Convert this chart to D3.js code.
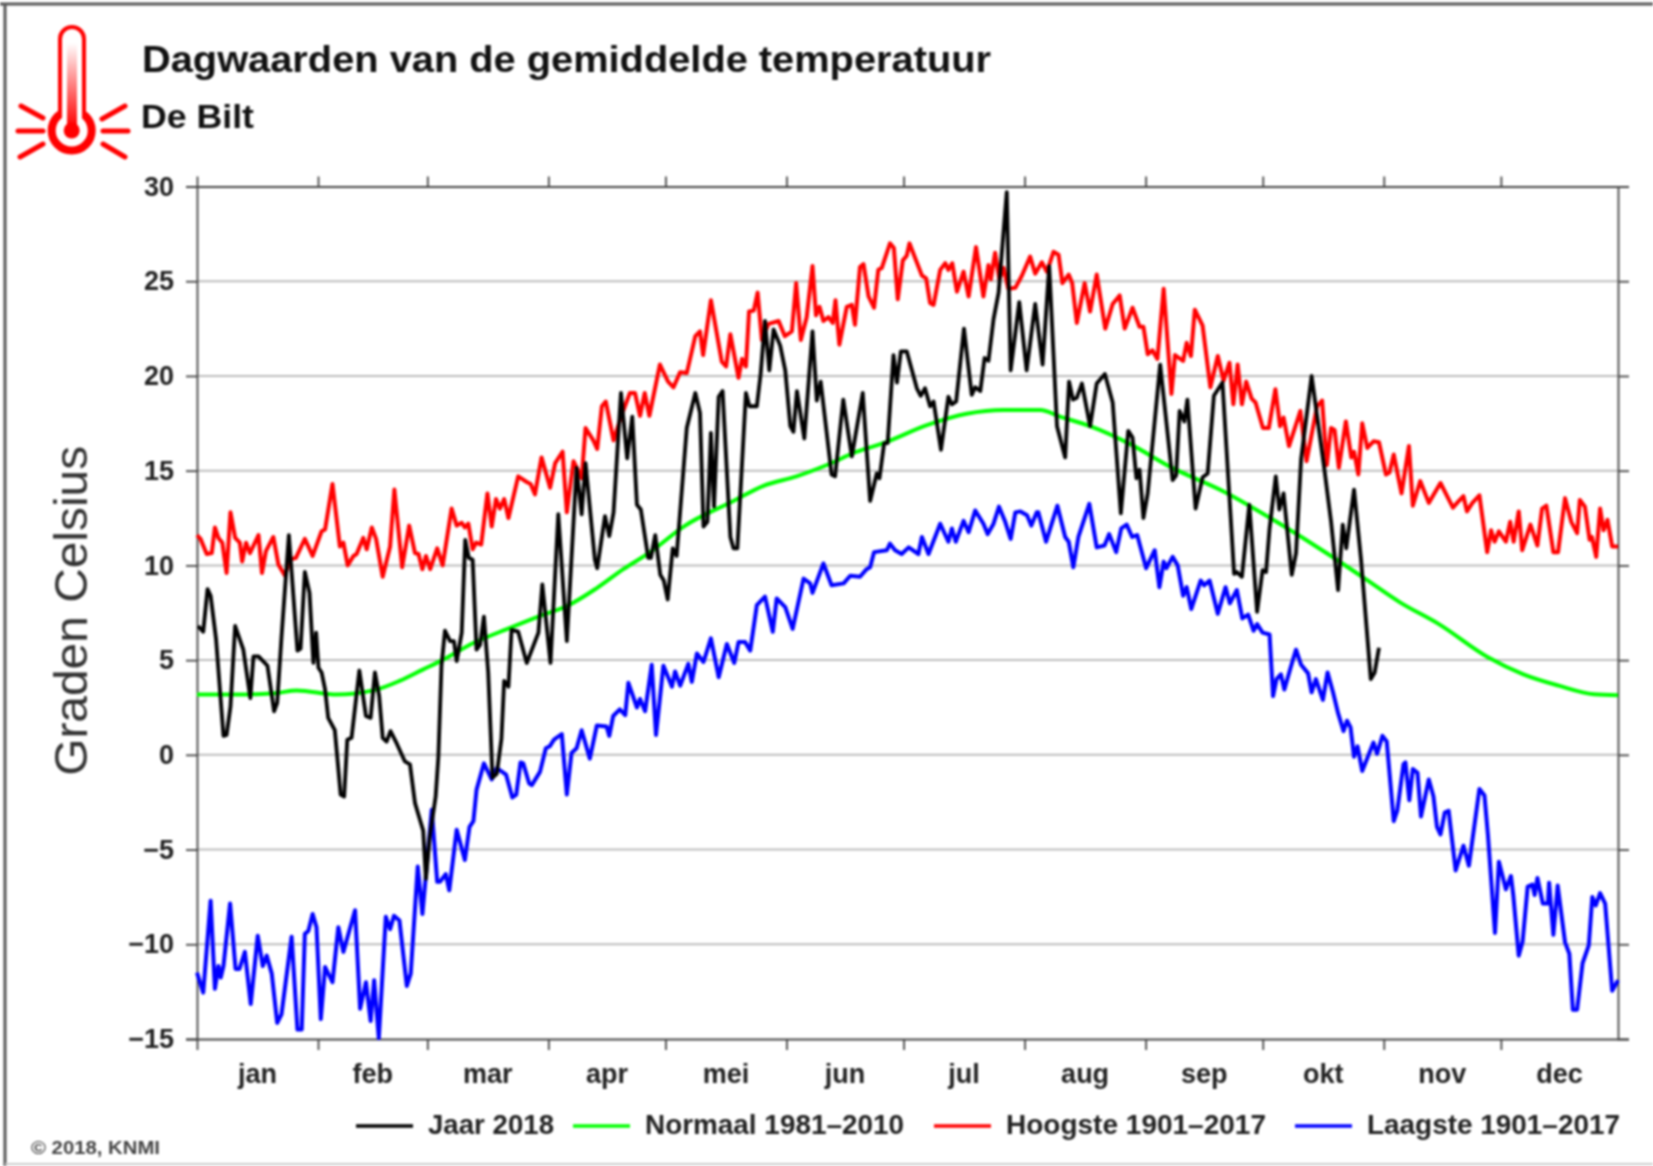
<!DOCTYPE html>
<html>
<head>
<meta charset="utf-8">
<title>Dagwaarden van de gemiddelde temperatuur</title>
<script src="https://cdnjs.cloudflare.com/ajax/libs/d3/7.8.5/d3.min.js"></script>
<style>
  html, body { margin: 0; padding: 0; background: #fff; }
  svg { display: block; filter: blur(1.1px); }
  text { font-family: "Liberation Sans", Arial, sans-serif; }
</style>
</head>
<body>
<div id="chart"></div>
<script>
// month ticks, day of the year where each month starts (1 jan = 0, 31 dec = 364)
const month_names = ["jan","feb","mar","apr","mei","jun","jul","aug","sep","okt","nov","dec"]
const month_starts = [0,31,59,90,120,151,181,212,243,273,304,334,364]
const y_ticks = [-15,-10,-5,0,5,10,15,20,25,30]

// series are [day, degrees] at each visible corner of the line
// the days were measured with a ruler of 365 steps over the plot width, see x_scale
const jaar_2018 = [[0.3,6.8],[1.6,6.5],[2.7,8.75],[3.5,8.4],[4.9,6.1],[6.8,1],[7.6,1.05],[8.6,2.55],[9.8,6.8],[11.9,5.55],[13.7,3],[14.5,5.2],[15.8,5.2],[18.1,4.7],[19.8,2.3],[20.6,2.75],[21.7,6.2],[23.6,11.6],[25.8,5.5],[26.6,5.6],[27.7,9.65],[28.9,8.55],[29.9,4.85],[30.6,6.45],[31.2,4.6],[32,4.35],[32.9,3.45],[33.7,1.95],[35.4,1.3],[36.9,-2.1],[37.8,-2.2],[38.6,0.8],[39.7,0.9],[41.7,4.45],[43.4,2.05],[44.6,1.95],[45.7,4.35],[46.8,3.1],[47.7,0.9],[48.7,0.7],[49.7,1.25],[51.3,0.6],[53.4,-0.35],[54.7,-0.5],[56,-2.55],[57.3,-3.45],[58.1,-4],[58.8,-6.55],[59.8,-4.3],[61.3,-2.2],[62,-0.1],[62.8,4.7],[63.7,6.55],[65,6],[66,6],[66.7,4.95],[68,6.45],[68.9,11.35],[69.8,10.4],[70.8,10.3],[71.8,5.55],[72.7,5.8],[73.7,7.3],[74.8,4.35],[75.9,-1.2],[77,-1],[78.2,0.85],[78.9,3.9],[80,3.6],[80.8,6.6],[82.5,6.5],[84.7,4.85],[87.7,6.45],[88.7,9],[90.8,4.85],[92.8,12.7],[95,6],[97.5,15.15],[98.8,12.7],[99.8,15.4],[102.2,10.3],[102.8,9.85],[104.8,12.6],[105.9,11.55],[107,12.8],[108.9,19.1],[110.5,15.65],[111.8,17.85],[113,13.2],[114,12.95],[115.9,10.4],[116.6,10.4],[117.7,11.6],[119,9.5],[119.9,9.2],[120.9,8.2],[122.2,10.9],[123.2,10.5],[125.8,17.25],[128,19.1],[129.2,18.05],[130.1,12.05],[131.1,12.3],[132,17],[132.8,13.1],[134,18.9],[135,19.2],[137,11.5],[137.8,10.9],[138.8,10.9],[141,19.1],[141.9,18.4],[143.8,18.4],[144.8,20.15],[145.9,22.9],[147,20.3],[148.1,22.45],[149.8,21.6],[151.1,20.3],[152.4,17.35],[153.2,17.05],[154.1,19.2],[156,16.7],[158.1,22.35],[159.2,18.7],[160.2,19.7],[163,14.8],[163.9,14.7],[166,18.75],[168.2,15.75],[171,19.1],[172.9,13.4],[174.6,14.85],[175.3,14.6],[176.5,16.45],[177.4,16.45],[178.9,21.1],[179.8,19.65],[180.8,21.3],[182.3,21.3],[184.9,19.35],[185.9,18.95],[187,19.35],[188.3,18.4],[189.2,18.65],[191.1,16.1],[193,18.9],[193.9,18.5],[195,18.65],[197,22.5],[199,19],[199.9,19.4],[201.2,19.2],[202.3,20.95],[203.3,20.8],[204.6,23],[205.9,24.4],[208,29.7],[209,20.3],[211.2,23.9],[213.1,20.3],[215.3,23.8],[217.2,20.6],[218.9,25.8],[220.9,17.35],[223,15.7],[224,19.7],[225,18.75],[226,18.85],[227.3,19.6],[229.4,17.35],[231.1,19.6],[233.2,20.1],[235.2,18.6],[237.3,12.75],[239.2,17.1],[240.3,16.75],[241.3,14.6],[242.1,15.05],[243.1,12.5],[244.2,13.8],[247.4,20.6],[250.6,14.5],[251.5,14.75],[252.4,18.15],[253.6,17.6],[254.4,18.75],[256.5,13],[258.3,14.65],[259.6,14.85],[261.2,18.95],[263.4,19.65],[266.4,9.55],[267.1,9.65],[268.4,9.4],[270.3,13.2],[272.3,7.55],[273.7,9.75],[274.6,9.65],[275.5,11.95],[277.1,14.7],[278,12.95],[279.1,13.8],[281.2,9.5],[282.3,10.65],[283.6,15.6],[286.3,20],[289.5,15.2],[291.3,12.3],[293.1,8.7],[294.3,12.15],[295.2,10.9],[297.2,14],[299,10.3],[301.5,4],[302.5,4.35],[303.6,5.65]]

const normaal = [[0,3.18],[10,3.18],[20,3.25],[25.6,3.4],[35.9,3.18],[45.3,3.4],[52,3.9],[58,4.5],[63,5],[71,5.9],[80.4,6.7],[89,7.4],[95,7.85],[102.7,8.8],[109.5,9.8],[116.4,10.7],[125,12.05],[137.8,13.4],[145.5,14.2],[154,14.7],[161.8,15.3],[169.5,16],[176.3,16.45],[187.5,17.4],[197.7,18],[207.2,18.2],[216.6,18.2],[221.7,17.85],[229.4,17.35],[239.7,16.4],[250,15.2],[263.7,13.9],[277.3,12.3],[290.9,10.55],[300,9.3],[309,8.05],[319,6.9],[331.6,5.15],[340.7,4.25],[349.8,3.65],[358.8,3.2],[365,3.15]]

const hoogste = [[0,11.6],[0.9,11.4],[2.5,10.6],[3.8,10.65],[4.6,12],[5.5,11.45],[6.5,11.2],[7.6,9.6],[8.6,12.8],[9.8,11.45],[11,11.2],[11.6,10.2],[12.6,11.2],[13.6,10.65],[15.8,11.6],[16.7,9.6],[17.7,10.75],[19.6,11.5],[20.9,10.05],[22.6,9.45],[23.8,10.3],[25.4,10.4],[27.7,11.4],[29.7,10.5],[32,11.8],[32.9,11.9],[34.8,14.3],[36.7,11],[37.6,11.2],[38.7,10],[40.2,10.5],[41,10.6],[42.7,11.45],[43.6,10.85],[44.9,12],[46,11.4],[47.7,9.4],[49.6,11],[50.7,14],[52.7,9.9],[54.5,12.1],[56,10.65],[56.9,10.6],[57.9,9.8],[58.8,10.5],[59.9,9.8],[61.7,10.9],[63.1,10],[65.4,13],[66.7,12.1],[68,12.25],[68.8,12],[69.7,12.2],[70.8,10.85],[71.7,11.2],[73,11.1],[74.6,13.8],[75.7,12.05],[76.8,13.5],[77.8,13],[78.9,13.5],[80,12.5],[82.5,14.7],[84.7,14.4],[85.7,14.3],[86.8,13.75],[88.5,15.7],[90.7,14.1],[92,15.4],[93.9,16],[95,12.8],[96.7,15.5],[97.9,15],[98.8,14.6],[99.8,17.25],[101.8,16.6],[102.8,16.15],[104,18.4],[105,18.65],[107,16.6],[109,17.9],[111.2,19.1],[112.5,19.1],[113.8,17.9],[115,19.1],[116.2,17.9],[118.9,20.6],[121,19.7],[122.4,19.4],[124.1,20.2],[125.8,20.15],[128,22.1],[129.2,22.35],[130,21.1],[132,24],[134.8,20.75],[135.9,20.5],[137,22.2],[139.1,19.9],[140,20.9],[141,20.5],[141.8,23.4],[143,23.45],[144,24.4],[145.1,21.9],[146.8,22.75],[149.4,22.9],[151,22.1],[152.8,22.35],[153.9,24.9],[155.1,21.9],[156.6,23.1],[158.1,25.8],[159,23.2],[159.9,23.65],[160.9,22.9],[162.2,23.1],[163.3,22.8],[164,24],[165,21.65],[166.9,23.65],[168.2,23.75],[169,22.7],[170.3,25.75],[171.2,25.9],[172.5,24.2],[173.9,23.6],[175,25.6],[175.9,25.7],[178,27],[179,26.75],[180,24.05],[181.3,26.1],[182.3,26.35],[183,27],[186.2,25.3],[187.3,25.15],[188.3,23.85],[189.2,23.75],[190.9,25.6],[192.2,25.95],[193,25.6],[194,25.95],[195.2,24.45],[196.9,25.5],[198.2,24.2],[200.1,26.8],[202,24.2],[203.3,25.85],[203.9,25.1],[205,26.5],[206.1,25.1],[207.2,25.7],[208.4,24.6],[210.2,24.65],[211.9,25.3],[214,26.3],[215.3,25.4],[217,26],[218.3,25.5],[220,26.55],[221.3,26.4],[222.3,24.9],[223.9,25.35],[224.8,24.9],[226,22.8],[228,24.9],[229.4,23.4],[231.1,25.35],[233.3,22.5],[235.2,23.8],[237,24.25],[238.3,22.5],[240.3,23.6],[242.1,22.6],[243.1,22.6],[244.2,21.15],[245.4,21.35],[246.7,20.9],[248.3,24.6],[250.3,19.05],[251.2,21.1],[253.3,20.8],[254.2,21.75],[255.3,21.05],[256.3,23.5],[258.3,22.65],[260.3,19.4],[262.2,21.05],[263.7,19.75],[265.2,20.7],[266.2,18.5],[267.3,20.6],[268.4,18.5],[269.5,19.7],[270.9,18.8],[271.9,18.6],[273.8,17.25],[275.3,17.25],[277,19.3],[278.2,17.35],[279.1,17.8],[280.5,16.3],[283.4,18.15],[285,15.5],[286.3,16.9],[287.7,18.4],[289,18.7],[290.2,15.3],[291.3,17.25],[292.2,17.15],[293.3,15.15],[295.1,17.6],[296.5,15.7],[297.2,16],[298.3,14.8],[299.3,17.5],[300.6,16.2],[302.2,16.55],[303.6,16.5],[305.4,14.8],[306.3,14.9],[307.4,15.85],[309.4,13.8],[311.3,16.3],[312.3,13.15],[314.2,14.45],[316.4,13.3],[319.4,14.35],[322.6,13.05],[323.9,13.35],[325.3,13.65],[326.2,12.85],[327.6,13.3],[329.4,13.7],[331.4,10.7],[332.4,11.85],[333.3,11.25],[334.4,11.8],[336.2,11.25],[337.3,12.3],[338.2,11.25],[339.5,12.85],[340.4,10.8],[342.5,12.15],[344.3,11.05],[345.5,13],[346.6,13.15],[348.4,10.7],[349.6,10.7],[351.4,13.55],[353,12.3],[354.5,11.7],[355.2,13.45],[356.5,13.1],[357.7,11.35],[358.3,11.5],[359.4,10.45],[360.4,13],[361.3,11.85],[362.3,12.4],[363.5,11],[365,11]]

const laagste = [[0,-11.5],[1.6,-12.55],[3.5,-7.7],[4.6,-12.35],[5.5,-11.15],[6.1,-11.75],[6.8,-11.15],[8.5,-7.85],[9.9,-11.3],[10.9,-11.3],[12.3,-10.4],[13.8,-13.15],[15.6,-9.55],[16.9,-11.15],[17.9,-10.6],[19.2,-11.55],[20.6,-14.15],[21.7,-13.7],[24.3,-9.6],[25.8,-14.5],[26.9,-14.5],[27.7,-9.45],[28.6,-9.3],[29.7,-8.4],[30.7,-9.1],[31.8,-13.95],[32.9,-11.2],[34.8,-12],[36.3,-9.1],[37.6,-10.4],[40.6,-8.2],[41.9,-13.4],[43.4,-12],[44.6,-14.05],[45.5,-11.9],[46.7,-14.95],[48.5,-8.55],[49.6,-9.2],[50.6,-8.5],[52,-8.75],[53.9,-12.2],[54.9,-11.55],[56.7,-5.9],[57.9,-8.4],[60.3,-2.9],[61.7,-6.7],[62.4,-6.7],[63.9,-6.3],[64.8,-7.15],[66.7,-3.95],[68.8,-5.55],[70,-3.8],[71,-3.5],[71.8,-1.85],[73.7,-0.45],[75.7,-1.3],[77,-0.7],[79.4,-1.05],[81,-2.25],[82,-2.1],[83.1,-0.4],[83.8,-0.45],[85.3,-1.5],[86,-1.6],[88.1,-0.9],[89.6,0.35],[90.6,0.45],[91.7,0.8],[93.7,1.1],[95,-2.1],[96.2,0.1],[97.5,0.35],[98.8,1.3],[100.9,-0.2],[102.7,1.55],[105.2,1.5],[105.9,1],[106.9,2.05],[108.6,2.4],[110,2.1],[110.8,3.8],[113,2.5],[113.8,2.95],[115.1,2.3],[116.8,4.75],[117.9,1.05],[119.8,4.7],[122,3.6],[122.8,4.4],[124.1,3.65],[126.2,4.8],[127.1,3.85],[128.4,5.35],[130.1,4.9],[132,6.15],[134,4.1],[136.1,5.85],[138,4.85],[139.1,5.95],[140.8,5.95],[142.1,5.5],[143.8,7.9],[145.9,8.35],[147.9,6.5],[148.9,8.25],[151.1,7.8],[153,6.65],[155.8,9.3],[157.5,9.05],[158.1,8.55],[160.9,10.1],[163,8.95],[166.1,9.05],[167.8,9.45],[170.3,9.4],[172,9.8],[172.9,9.9],[173.9,10.7],[177.2,10.8],[178,11.15],[179.3,10.8],[181,10.6],[182.8,10.95],[185.3,10.6],[186.2,11.5],[187.9,10.6],[190.9,12.2],[193,11.25],[193.9,11.95],[194.9,11.25],[196.9,12.35],[198.2,11.75],[199.9,12.9],[202,12.2],[203.1,11.65],[204.6,12.2],[206,13.1],[207.6,12.3],[209,11.4],[210.2,12.8],[211.5,12.85],[213.2,12.65],[214.3,12.1],[215.7,12.8],[216.1,12.8],[218.1,11.25],[221,13.15],[223,11.5],[223.9,11.25],[225.1,9.9],[226.4,11.5],[229.2,13.25],[231.1,10.95],[233.1,11.05],[234.3,11.65],[236.1,10.7],[237.4,11.95],[238.8,12.15],[240.2,11.5],[241.5,11.6],[243.8,9.85],[246,10.8],[247.2,8.85],[248.3,10.2],[249,9.85],[250.6,10.45],[251.9,10],[253.3,8.4],[254.2,8.85],[255.4,7.7],[257.8,9.2],[258.7,8.95],[260.1,9.2],[262.2,7.45],[264.2,8.85],[265.3,8],[267.1,8.7],[268.5,7.2],[270,7.4],[271.4,6.55],[272.3,6.9],[273.7,6.45],[275.5,6.35],[276.4,3.1],[277.3,4],[278.4,4.25],[279.3,3.45],[280.9,4.6],[282.3,5.55],[283.6,4.75],[285.4,4.3],[286.3,3.3],[287.4,4],[289.2,2.9],[290.4,4.35],[291.8,3.3],[293.1,2.2],[294.5,1.25],[295.4,1.8],[296.3,1.45],[297.2,-0.1],[298.1,0.45],[299.3,-0.85],[302.2,0.65],[303.1,0.05],[304.5,1],[305.6,0.7],[307.4,-3.5],[308.3,-2.95],[309.9,-0.5],[310.4,-0.4],[311.4,-2.4],[312.3,-0.75],[313.5,-0.95],[314.4,-3.25],[316.4,-1.3],[317.6,-2.2],[318.5,-3.8],[319.4,-4.2],[320.5,-3.05],[321.5,-2.95],[323.3,-6.1],[325.3,-4.8],[326.7,-5.85],[329.4,-1.8],[330.7,-2.15],[331.6,-4.25],[333.4,-9.4],[334.4,-5.65],[336.2,-7.1],[337.5,-6.4],[338.1,-7.4],[339.5,-10.6],[340.5,-9.85],[341.8,-6.95],[343,-6.85],[343.6,-7.4],[344.3,-6.5],[345.7,-7.85],[347,-7.85],[347.3,-6.75],[348.4,-9.5],[349.5,-6.9],[351.4,-9.9],[352.5,-10.5],[353.4,-13.45],[354.5,-13.45],[355.9,-11],[357.5,-10.05],[358.4,-7.5],[359.3,-7.95],[360.4,-7.3],[361.7,-7.85],[363.5,-12.45],[365,-11.9]]

const legend_labels = ["Jaar 2018","Normaal 1981\u20132010","Hoogste 1901\u20132017","Laagste 1901\u20132017"]
const c_jaar = "#000000", c_normaal = "#00ff00", c_hoogste = "#ff0000", c_laagste = "#0000ff"

var width = 1653, height = 1166
var margin = {top: 186.5, right: 35, bottom: 127, left: 197}

var svg = d3.select("#chart").append("svg")
    .attr("width", width)
    .attr("height", height)

// x_scale places the line corners, month_scale the ticks, same pixels both
var x_scale = d3.scaleLinear().domain([0, 365]).range([margin.left, width - margin.right])
var month_scale = d3.scaleLinear().domain([0, 364]).range([margin.left, width - margin.right])
var y_scale = d3.scaleLinear().domain([-15, 30]).range([height - margin.bottom, margin.top])

var plot_line = d3.line()
    .x(function(d) { return x_scale(d[0]) })
    .y(function(d) { return y_scale(d[1]) })

var smooth_line = d3.line()
    .x(function(d) { return x_scale(d[0]) })
    .y(function(d) { return y_scale(d[1]) })
    .curve(d3.curveMonotoneX)

// frame round the picture
svg.append("line").attr("x1", 0).attr("x2", width).attr("y1", 4).attr("y2", 4)
    .style("stroke", "#555").style("stroke-width", 3)
svg.append("line").attr("x1", 5).attr("x2", 5).attr("y1", 4).attr("y2", height)
    .style("stroke", "#555").style("stroke-width", 3)
svg.append("line").attr("x1", 5).attr("x2", width).attr("y1", 1164).attr("y2", 1164)
    .style("stroke", "#ccc").style("stroke-width", 2)

// thermometer icon
var gradient = svg.append("defs").append("linearGradient")
    .attr("id", "thermo_fill").attr("x1", "0%").attr("y1", "0%").attr("x2", "0%").attr("y2", "100%")
gradient.append("stop").attr("offset", "0%").attr("stop-color", "#fff")
gradient.append("stop").attr("offset", "100%").attr("stop-color", "#ff0000")

var icon = svg.append("g")
icon.append("rect").attr("x", 60).attr("y", 27).attr("width", 24).attr("height", 100).attr("rx", 12)
    .style("fill", "#fff").style("stroke", "#ff0000").style("stroke-width", 4)
icon.append("circle").attr("cx", 71.7).attr("cy", 130.5).attr("r", 20)
    .style("fill", "#fff").style("stroke", "#ff0000").style("stroke-width", 8)
icon.append("rect").attr("x", 62).attr("y", 100).attr("width", 20).attr("height", 22).style("fill", "#fff")
icon.append("rect").attr("x", 67).attr("y", 43).attr("width", 10).attr("height", 84)
    .style("fill", "url(#thermo_fill)")
icon.append("circle").attr("cx", 71.7).attr("cy", 130.5).attr("r", 8).style("fill", "#ff0000")
icon.selectAll(".ray")
    .data([[18,131,43,131],[21,106,43,118],[20,157,43,144],[103,131,128,131],[102,119,125,106],[103,144,125,157]])
  .enter().append("line")
    .attr("x1", function(d) { return d[0] }).attr("y1", function(d) { return d[1] })
    .attr("x2", function(d) { return d[2] }).attr("y2", function(d) { return d[3] })
    .style("stroke", "#ff0000").style("stroke-width", 5).style("stroke-linecap", "round")

// titles
svg.append("text").attr("x", 142).attr("y", 72)
    .attr("textLength", 849).attr("lengthAdjust", "spacingAndGlyphs")
    .style("font-size", "37px").style("font-weight", "bold").style("fill", "#111")
    .text("Dagwaarden van de gemiddelde temperatuur")
svg.append("text").attr("x", 141).attr("y", 128)
    .attr("textLength", 113).attr("lengthAdjust", "spacingAndGlyphs")
    .style("font-size", "33px").style("font-weight", "bold").style("fill", "#111")
    .text("De Bilt")

svg.append("text")
    .attr("transform", "translate(87," + y_scale(7.6) + ") rotate(-90)")
    .attr("text-anchor", "middle")
    .attr("textLength", 330).attr("lengthAdjust", "spacingAndGlyphs")
    .style("font-size", "47px").style("fill", "#333")
    .text("Graden Celsius")

// grid
svg.selectAll(".grid")
    .data(y_ticks.filter(function(d) { return d > -15 && d < 30 }))
  .enter().append("line")
    .attr("x1", x_scale(0)).attr("x2", x_scale(365))
    .attr("y1", function(d) { return y_scale(d) }).attr("y2", function(d) { return y_scale(d) })
    .style("stroke", "#bdbdbd").style("stroke-width", 2)

// axes
var y_left = d3.axisLeft(y_scale).tickValues(y_ticks).tickSize(11).tickPadding(12).tickFormat(d3.format("d"))
var y_right = d3.axisRight(y_scale).tickValues(y_ticks).tickSize(11).tickFormat("")
var x_top = d3.axisTop(month_scale).tickValues(month_starts.slice(0, 12)).tickSize(10).tickSizeOuter(0).tickFormat("")
var x_bottom = d3.axisBottom(month_scale).tickValues(month_starts.slice(0, 12)).tickSize(11).tickSizeOuter(0).tickFormat("")

function add_axis(axis, tx, ty) {
  var g = svg.append("g").attr("transform", "translate(" + tx + "," + ty + ")").call(axis)
  g.selectAll("path, line").style("stroke", "#444").style("stroke-width", 1.8)
  return g
}
var g_left = add_axis(y_left, x_scale(0), 0)
add_axis(y_right, x_scale(365), 0)
add_axis(x_top, 0, y_scale(30))
add_axis(x_bottom, 0, y_scale(-15))

g_left.selectAll("text")
    .style("font-family", "'Liberation Sans', Arial, sans-serif")
    .style("font-size", "27px").style("font-weight", "bold").style("fill", "#222")

// month names sit midway between the ticks
svg.selectAll(".month")
    .data(month_names)
  .enter().append("text")
    .attr("x", function(d, i) { return month_scale((month_starts[i] + month_starts[i + 1]) / 2) })
    .attr("y", 1083)
    .attr("text-anchor", "middle")
    .style("font-size", "27px").style("font-weight", "bold").style("fill", "#222")
    .text(function(d) { return d })

// lines
svg.append("path")
    .attr("d", smooth_line(normaal))
    .style("fill", "none").style("stroke", c_normaal).style("stroke-width", 4)

var series = [[hoogste, c_hoogste, 4], [laagste, c_laagste, 4], [jaar_2018, c_jaar, 3.8]]
svg.selectAll(".serie")
    .data(series)
  .enter().append("path")
    .attr("d", function(d) { return plot_line(d[0]) })
    .style("fill", "none")
    .style("stroke", function(d) { return d[1] })
    .style("stroke-width", function(d) { return d[2] })
    .style("stroke-linejoin", "round")

// legend
var legend_x = [356, 573, 934, 1295]
var legend_colors = [c_jaar, c_normaal, c_hoogste, c_laagste]
var legend_text_w = [126, 259, 260, 253]
var legend = svg.selectAll(".legend")
    .data(legend_labels)
  .enter().append("g")
    .attr("transform", function(d, i) { return "translate(" + legend_x[i] + ",1126)" })
legend.append("line").attr("x1", 0).attr("x2", 57)
    .style("stroke", function(d, i) { return legend_colors[i] })
    .style("stroke-width", 3.4)
legend.append("text").attr("x", 72).attr("y", 8)
    .attr("textLength", function(d, i) { return legend_text_w[i] }).attr("lengthAdjust", "spacingAndGlyphs")
    .style("font-size", "27px").style("font-weight", "bold").style("fill", "#222")
    .text(function(d) { return d })

svg.append("text").attr("x", 31).attr("y", 1154)
    .attr("textLength", 129).attr("lengthAdjust", "spacingAndGlyphs")
    .style("font-size", "19px").style("font-weight", "bold").style("fill", "#444")
    .text("\u00a9 2018, KNMI")
</script>
</body>
</html>
